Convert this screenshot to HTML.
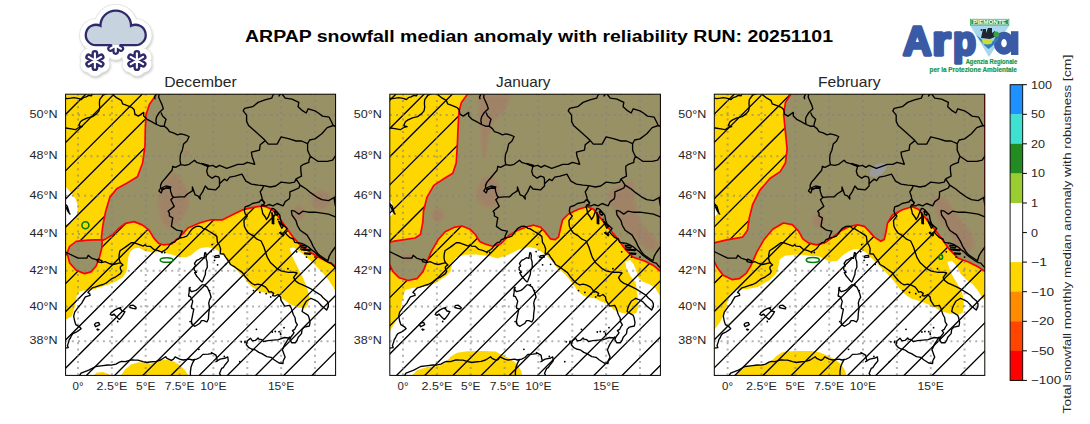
<!DOCTYPE html>
<html><head><meta charset="utf-8"><style>
html,body{margin:0;padding:0;background:#fff;overflow:hidden;width:1090px;height:424px;}
svg{display:block;}
text{font-family:"Liberation Sans",sans-serif;}
</style></head><body>
<svg width="1090" height="424" viewBox="0 0 1090 424">
<rect width="1090" height="424" fill="#fff"/>

<defs>
<clipPath id="c0"><rect x="65.6" y="94.2" width="270.0" height="281.2"/></clipPath>
<clipPath id="c1"><rect x="389.8" y="94.2" width="270.59999999999997" height="281.2"/></clipPath>
<clipPath id="c2"><rect x="714.3" y="94.2" width="270.5" height="281.2"/></clipPath>
<filter id="bl" x="-20%" y="-20%" width="140%" height="140%"><feGaussianBlur stdDeviation="1.6"/></filter>
</defs>
<g clip-path="url(#c0)">
<rect x="65.6" y="94.2" width="270.0" height="281.2" fill="#ffd700"/>
<polygon points="65.0,319.8 71.7,316.5 75.0,306.5 76.6,296.5 80.0,291.0 91.0,290.0 96.4,288.5 107.0,284.9 115.9,281.4 123.0,277.0 126.5,271.6 127.4,264.6 128.3,257.5 130.0,252.2 133.6,248.6 138.9,247.7 146.0,251.5 153.0,252.5 161.0,252.0 167.0,253.2 173.0,254.9 180.7,257.2 186.8,257.2 191.4,254.9 196.0,251.1 200.6,248.0 206.7,247.2 212.9,248.0 217.5,250.3 222.1,254.1 226.7,258.7 231.3,264.9 237.4,271.0 243.6,277.1 248.2,283.3 251.3,286.3 258.4,291.2 268.3,293.4 276.8,294.8 283.9,299.7 291.0,304.7 298.0,307.5 305.1,308.2 308.0,304.8 309.4,297.7 308.0,290.7 303.7,279.3 298.1,268.0 292.4,256.7 289.6,248.2 293.8,247.6 300.9,252.4 309.4,259.5 316.5,266.6 323.6,273.7 329.2,280.7 333.5,287.8 336.5,293.5 336.5,376.0 65.0,376.0" fill="#fff"/>
<polygon points="65.0,185.6 67.2,188.5 71.5,193.4 75.7,199.1 77.9,206.2 77.2,213.2 75.0,218.9 71.5,222.5 67.2,224.3 65.0,224.6" fill="#fff"/>
<polygon points="120.7,376.0 124.6,370.0 130.9,364.5 138.7,362.2 146.6,362.6 150.5,363.7 156.0,361.4 163.8,359.5 171.7,360.6 178.0,363.7 184.2,369.2 188.9,376.0" fill="#ffd700"/>
<polygon points="93.2,376.0 96.4,372.7 102.7,372.0 108.9,374.0 111.3,376.0" fill="#ffd700"/>
<path d="M59.36,64.2L-281.84,405.4M87.55,64.2L-253.64,405.4M115.75,64.2L-225.45,405.4M143.94,64.2L-197.26,405.4M172.13,64.2L-169.07,405.4M200.33,64.2L-140.87,405.4M228.52,64.2L-112.68,405.4M256.71,64.2L-84.49,405.4M284.91,64.2L-56.29,405.4M313.10,64.2L-28.10,405.4M341.29,64.2L0.09,405.4M369.48,64.2L28.28,405.4M397.68,64.2L56.48,405.4M425.87,64.2L84.67,405.4M454.06,64.2L112.86,405.4M482.26,64.2L141.06,405.4M510.45,64.2L169.25,405.4M538.64,64.2L197.44,405.4M566.84,64.2L225.64,405.4M595.03,64.2L253.83,405.4M623.22,64.2L282.02,405.4M651.41,64.2L310.21,405.4M679.61,64.2L338.41,405.4" stroke="#000" stroke-width="1.35" fill="none"/>
<polygon points="157.4,93.0 149.5,104.3 146.0,114.7 145.3,128.5 145.0,145.7 142.6,163.0 137.4,176.8 127.1,183.0 116.7,188.8 109.8,197.4 105.7,211.2 102.9,225.0 101.5,236.5 101.6,239.6 87.8,240.1 76.2,241.4 69.6,246.4 67.1,253.0 69.6,262.9 76.2,270.3 84.5,273.6 91.0,271.9 96.0,266.2 99.3,257.9 101.8,248.0 102.2,240.6 105.9,238.9 112.5,234.8 119.1,228.2 125.7,223.3 134.0,221.6 142.2,224.9 148.8,229.9 153.8,238.1 158.7,243.5 163.2,244.8 171.5,244.0 179.7,237.1 188.0,228.0 199.5,223.0 211.0,219.8 222.6,219.8 232.5,214.8 242.4,209.9 250.0,208.2 256.0,206.8 262.0,206.0 266.5,207.0 271.4,209.2 275.0,212.5 279.0,217.6 286.5,228.0 294.0,238.4 303.5,247.8 316.7,256.3 328.0,262.0 336.5,266.5 336.5,93.0" fill="#999166"/>
<polygon points="174.0,171.0 182.0,180.0 188.0,192.0 189.0,205.0 185.0,215.0 178.0,225.0 168.0,228.0 161.0,220.0 158.0,205.0 159.0,192.0 164.0,182.0" fill="#a08366" filter="url(#bl)"/>
<ellipse cx="187" cy="153" rx="2.5" ry="2.5" fill="#a08366" filter="url(#bl)"/>
<ellipse cx="321" cy="200" rx="10" ry="10" fill="#a08366" filter="url(#bl)"/>
<ellipse cx="299" cy="213" rx="5.5" ry="8" fill="#a08366" filter="url(#bl)"/>
<path d="M78.00,93.70V377.4M111.86,93.70V377.4M145.72,93.70V377.4M179.57,93.70V377.4M213.43,93.70V377.4M247.29,93.70V377.4M281.14,93.70V377.4M315.00,93.70V377.4M65.60,341.29H337.6M65.60,306.58H337.6M65.60,270.83H337.6M65.60,233.94H337.6M65.60,195.79H337.6M65.60,156.23H337.6M65.60,115.10H337.6" stroke="#808080" stroke-opacity="0.6" stroke-width="2" stroke-dasharray="2 4.214" fill="none"/>
<polygon points="157.4,93.0 149.5,104.3 146.0,114.7 145.3,128.5 145.0,145.7 142.6,163.0 137.4,176.8 127.1,183.0 116.7,188.8 109.8,197.4 105.7,211.2 102.9,225.0 101.5,236.5 101.6,239.6 87.8,240.1 76.2,241.4 69.6,246.4 67.1,253.0 69.6,262.9 76.2,270.3 84.5,273.6 91.0,271.9 96.0,266.2 99.3,257.9 101.8,248.0 102.2,240.6 105.9,238.9 112.5,234.8 119.1,228.2 125.7,223.3 134.0,221.6 142.2,224.9 148.8,229.9 153.8,238.1 158.7,243.5 163.2,244.8 171.5,244.0 179.7,237.1 188.0,228.0 199.5,223.0 211.0,219.8 222.6,219.8 232.5,214.8 242.4,209.9 250.0,208.2 256.0,206.8 262.0,206.0 266.5,207.0 271.4,209.2 275.0,212.5 279.0,217.6 286.5,228.0 294.0,238.4 303.5,247.8 316.7,256.3 328.0,262.0 336.5,266.5 336.5,93.0" fill="none" stroke="#ff0000" stroke-width="1.7" stroke-linejoin="round"/>
<path d="M61.7,97.5 L64.5,98.2 L67.4,98.6 L70.6,98.2 L73.9,97.7 L78.0,98.4 L81.4,99.5 L83.4,97.7 L86.1,96.9 L88.8,95.4 L91.3,95.8 L91.9,94.8 L94.3,92.2 L96.3,90.7 L97.0,87.4M61.7,128.4 L65.8,128.0 L71.2,128.9 L75.3,129.7 L78.0,128.0 L80.0,127.0 L82.1,126.6 L79.4,126.0 L78.9,125.1 L80.4,121.8 L83.0,119.9 L87.5,117.8 L92.6,116.6 L96.7,113.6 L99.0,110.9 L99.7,107.3 L99.4,103.5 L99.7,99.7 L103.1,95.0 L107.8,93.3 L112.5,92.0M61.7,202.4 L64.5,203.1 L65.8,204.9 L67.2,206.0 L68.2,209.3 L69.1,212.5 L70.4,214.5M63.4,203.9 L66.1,207.4 L67.8,211.2 L69.9,214.1M60.4,349.0 L64.7,348.1 L68.2,347.6 L67.4,345.6 L68.8,341.6 L69.2,339.6 L70.4,338.0 L71.5,335.5 L72.9,333.6 L76.2,332.2 L78.7,330.5 L81.1,328.7 L79.5,326.8 L75.8,324.6 L74.7,321.3 L73.7,316.2 L74.7,312.2 L78.3,307.1 L81.8,303.1 L83.4,300.2 L85.4,296.9 L90.1,295.4 L89.8,293.8 L87.9,292.4 L89.1,291.0 L92.2,287.9 L94.9,287.1 L99.9,285.3 L103.1,284.5 L106.4,282.9 L107.8,281.7 L111.0,279.2 L115.8,276.8 L120.4,273.6 L121.6,271.7 L120.4,268.7 L120.3,267.2 L121.1,266.1 L123.0,265.0 L120.8,263.0 L119.7,261.2 L119.0,258.1 L119.2,254.4 L120.0,250.7 L125.0,247.4 L128.1,245.1 L131.2,242.7 L133.9,242.7 L138.0,244.2 L143.4,246.1 L145.0,244.8 L146.4,246.1 L150.5,246.4 L153.0,248.7 L153.8,249.4 L158.3,250.7 L161.3,252.0 L164.1,250.7 L166.7,248.8 L167.9,247.5 L169.7,244.8 L172.1,242.7 L173.1,242.3 L174.6,242.2 L176.5,239.7 L178.5,239.0 L179.6,238.1 L183.4,237.3 L186.8,236.2 L188.6,233.9 L190.4,231.1 L192.8,228.3 L196.5,226.4 L198.9,226.2 L201.9,227.2 L202.7,228.3 L205.3,228.9 L209.4,231.5 L211.4,232.6 L214.8,234.9 L216.8,236.4 L217.5,242.3 L219.3,245.1 L220.6,248.8 L220.2,253.8 L223.7,254.0 L225.6,257.1 L227.0,259.0 L229.7,263.0 L230.4,264.5 L235.1,267.2 L237.8,269.2 L242.5,272.6 L244.6,275.7 L248.9,280.8 L252.0,283.5 L254.7,284.9 L258.1,284.2 L261.8,285.1 L265.6,287.1 L267.6,289.7 L269.0,292.1 L271.0,291.7 L273.7,293.3 L272.6,295.6 L275.1,296.0 L278.0,294.5 L280.5,296.9 L281.0,300.4 L283.9,304.8 L284.8,306.1 L289.7,305.3 L291.3,308.3 L291.8,309.9 L293.3,314.5 L295.1,317.8 L295.6,321.8 L297.4,324.9 L296.0,326.7 L294.7,329.3 L292.4,330.6 L294.0,332.7 L293.3,333.9 L290.9,337.0 L289.9,339.6 L291.7,342.7 L295.5,342.7 L297.0,340.4 L298.2,337.2 L301.5,333.6 L302.1,329.4 L304.2,327.2 L309.4,326.0 L310.0,322.7 L309.0,317.4 L308.2,315.4 L302.1,311.5 L302.8,308.3 L304.2,304.8 L306.2,301.3 L310.9,298.3 L313.6,299.5 L317.7,301.6 L321.5,305.7 L324.5,308.3 L326.6,310.1 L328.3,306.6 L328.4,303.9 L327.2,301.3 L323.1,297.7 L321.0,295.3 L316.4,292.4 L310.9,288.8 L306.5,286.7 L301.5,284.4 L298.5,283.1 L295.4,280.8 L293.6,277.7 L294.7,275.9 L297.1,273.0 L293.1,272.1 L288.6,272.3 L284.5,271.7 L281.1,270.8 L277.2,268.7 L273.7,265.4 L270.4,262.5 L267.2,257.1 L266.0,253.5 L263.9,247.0 L261.1,241.0 L257.0,239.2 L252.8,235.6 L248.2,232.8 L245.7,229.2 L244.3,226.0 L243.9,220.7 L247.3,216.0 L245.3,214.1 L244.3,210.8 L245.1,206.8 L249.3,205.5 L252.4,203.5 L255.4,202.8 L259.2,202.0 L261.2,199.7 L262.5,200.6 L264.5,202.6 L263.9,204.5 L261.8,204.9 L261.1,206.8 L262.2,210.6 L262.7,213.5 L265.6,217.5 L266.4,219.6 L268.3,216.9 L269.6,213.5 L271.0,210.3 L271.8,208.5 L273.6,208.7 L275.7,210.3 L276.9,211.8 L279.8,215.2 L280.5,219.8 L282.1,224.0 L287.1,228.5 L285.9,230.2 L284.3,231.7 L287.2,235.1 L289.9,237.7 L293.3,239.0 L294.7,242.3 L298.1,242.9 L300.6,243.1 L304.0,244.4 L308.5,247.0 L311.6,249.8 L314.1,251.6 L316.5,254.0 L317.7,255.3 L320.4,257.1 L323.0,259.0 L324.8,260.3 L329.0,262.6 L331.3,263.2 L333.2,265.6 L336.7,269.0 L338.0,272.1 L340.7,273.6M205.6,252.4 L206.4,255.7 L206.0,258.1 L207.1,261.7 L207.3,267.2 L205.6,270.8 L205.3,274.5 L203.9,278.1 L202.9,280.8 L202.1,282.0 L199.9,279.9 L198.5,278.1 L196.8,276.3 L194.7,272.6 L196.5,272.3 L194.2,269.9 L194.1,267.2 L195.6,265.9 L194.5,263.5 L196.6,260.4 L199.1,259.3 L201.5,257.7 L203.9,258.4 L204.4,255.3 L204.8,252.9 L205.6,252.4M202.5,284.5 L205.0,285.6 L207.3,287.1 L208.7,290.3 L210.0,293.3 L211.1,297.2 L209.6,299.9 L208.7,303.1 L209.5,307.8 L208.7,313.6 L208.4,319.0 L206.9,322.0 L203.9,320.6 L201.5,320.6 L199.9,323.2 L195.0,326.3 L192.4,324.9 L191.5,323.2 L191.5,320.6 L192.4,316.2 L193.1,312.7 L193.8,309.2 L191.8,308.3 L191.5,306.1 L192.7,301.3 L190.5,296.7 L188.5,296.0 L189.1,292.4 L189.3,287.9 L190.4,290.6 L191.8,291.7 L196.0,290.4 L198.1,288.8 L200.6,286.2 L202.5,284.5M289.9,336.7 L288.6,338.0 L284.4,337.5 L278.4,339.6 L267.9,340.6 L263.5,341.6 L261.5,339.6 L258.9,339.2 L258.1,337.9 L255.4,340.4 L252.4,340.8 L250.4,338.2 L247.3,341.0 L246.3,344.7 L248.5,347.3 L251.4,349.0 L255.1,349.8 L258.8,352.4 L261.9,353.7 L266.8,356.6 L271.0,357.3 L274.4,360.0 L279.1,363.0 L283.0,363.5 L283.2,360.8 L285.1,357.1 L284.1,354.4 L282.4,349.8 L283.9,346.4 L285.1,343.9 L286.8,341.3 L289.9,336.7M121.3,307.5 L119.7,308.7 L120.7,309.2 L122.0,311.0 L124.9,311.7 L123.2,314.7 L120.7,318.0 L119.3,319.4 L116.6,317.1 L115.2,315.4 L113.9,314.1 L111.9,315.4 L110.2,314.5 L111.2,312.7 L114.6,310.1 L118.0,308.3 L121.3,307.5M129.9,305.7 L133.3,305.2 L136.2,307.5 L135.8,308.9 L132.8,308.3 L129.9,307.5 L129.9,305.7M98.6,322.3 L99.7,324.6 L97.4,325.8 L95.6,326.7 L94.5,324.6 L95.6,323.2 L98.6,322.3M96.7,328.9 L99.0,329.6 L97.6,330.1 L96.7,328.9M214.8,255.9 L218.8,255.3 L219.3,257.1 L214.8,257.5 L214.8,255.9M274.4,210.8 L277.8,213.1 L277.1,215.4 L275.1,214.1 L274.4,210.8M271.7,212.2 L273.7,216.9 L273.7,222.6 L272.3,223.6 L272.3,217.9 L271.7,212.2M278.4,220.7 L283.2,226.4 L281.8,228.3 L279.1,222.6 L278.4,220.7M300.1,245.1 L306.9,246.1 L305.5,247.9 L300.8,247.0 L300.1,245.1M300.1,248.8 L310.9,249.8 L309.6,250.7 L301.5,249.8 L300.1,248.8M304.2,252.9 L310.9,253.5 L310.3,254.4 L304.8,253.8 L304.2,252.9M279.8,232.1 L283.9,234.9 L283.2,235.8 L279.8,233.0 L279.8,232.1M65.8,380.1 L73.9,377.6 L79.2,376.2 L81.0,373.1 L88.8,370.1 L95.6,366.5 L101.0,365.9 L107.8,365.0 L111.2,365.2 L115.9,364.2 L119.4,362.2 L121.7,361.3 L125.4,361.7 L131.0,359.8 L133.8,360.0 L137.9,360.2 L143.0,361.7 L146.8,362.5 L149.8,362.0 L156.1,361.3 L160.6,360.0 L165.6,356.8 L167.0,358.3 L171.4,360.3 L173.5,359.1 L175.1,356.9 L179.6,359.1 L183.1,360.0 L189.6,359.1 L192.3,360.0 L196.6,359.1 L199.9,357.5 L202.9,354.4 L208.0,354.1 L211.7,353.7 L211.4,352.5 L215.1,354.6 L216.1,355.4 L216.8,359.1 L217.5,360.8 L215.9,361.7 L217.9,360.3 L220.2,359.1 L225.6,358.0 L227.7,356.9 L228.3,360.8 L224.9,365.0 L223.3,367.6 L221.6,368.4 L219.5,373.4 L222.1,377.9M161.3,188.0 L166.0,186.0 L170.8,187.0 L170.1,188.4 L166.0,188.0 L162.0,189.9 L161.3,188.0M201.2,163.3 L208.7,165.3 L208.0,166.3 L202.6,164.3 L201.2,163.3" stroke="#000" stroke-width="1.35" fill="none" stroke-linejoin="round"/>
<path d="M112.5,92.0 L113.2,95.0 L117.3,98.2 L121.3,100.3 L122.7,103.9 L127.4,105.6 L132.2,107.7 L134.2,109.8 L134.9,114.1 L138.3,116.1 L143.7,112.4 L143.7,116.1 L147.1,119.3 L151.1,121.4 L156.5,124.5M156.5,124.5 L155.9,120.3 L156.5,117.2 L159.3,112.4M159.3,112.4 L163.3,108.8 L162.0,104.6 L159.5,99.2 L158.6,97.1 L159.3,92.8M155.2,99.2 L154.5,97.1 L156.5,92.8M161.0,112.4 L162.6,116.1 L166.0,119.3 L164.7,123.5 L164.3,126.2M156.5,124.5 L160.6,126.2 L164.3,126.2 L167.4,128.6 L169.4,131.7 L173.5,132.8 L177.5,134.8 L180.9,133.8 L185.0,134.8 L189.1,136.5 L187.0,141.0 L183.6,144.1 L182.3,150.2 L180.5,154.2 L180.0,160.2 L180.8,164.3M180.8,164.7 L185.0,165.3 L189.1,164.3 L191.8,162.3 L194.5,160.2 L196.5,162.3 L199.9,163.3 L203.9,164.3 L208.0,166.3M180.8,164.7 L175.5,167.3 L172.8,166.3 L172.1,170.2 L168.7,174.2 L165.4,178.2 L162.0,182.1 L160.6,185.1 L160.6,188.0 L158.9,190.9 L161.3,192.9 L162.6,189.0 L166.7,188.0 L170.1,188.0 L170.8,191.9 L172.1,195.8 L173.5,197.3M173.5,197.3 L170.8,199.7 L172.8,203.5 L174.2,206.4 L168.1,211.2 L169.4,213.1 L169.4,216.0 L172.8,217.9 L172.1,221.7 L171.4,226.4 L176.9,230.2 L182.3,231.1 L180.2,235.8 L179.8,238.1M173.5,197.3 L179.6,196.8 L184.7,196.8 L187.7,193.8 L192.4,190.9 L192.4,187.0 L195.1,194.8 L197.9,195.8 L200.3,199.1 L199.9,195.8 L202.6,191.9 L205.3,186.0 L208.0,189.0 L215.5,189.9 L219.5,186.0 L219.5,183.7M219.5,183.7 L219.5,179.2 L218.8,177.2 L215.5,176.2 L212.1,178.2 L208.0,175.2 L206.7,171.2 L208.0,166.3M219.5,183.7 L224.3,179.2 L227.0,180.7 L229.7,177.2 L235.1,176.2 L241.9,174.2 L245.9,181.1 L251.4,184.1 L258.1,185.1 L263.8,185.6M208.0,166.3 L212.8,165.3 L216.1,167.3 L219.5,165.3 L226.7,168.3 L232.4,166.3 L237.8,164.3 L243.2,164.3 L247.3,162.3 L251.4,163.3 L254.7,164.3 L253.4,160.2 L252.0,156.2 L251.4,152.2 L259.5,150.2 L260.2,144.7 L265.3,140.6M265.3,140.6 L261.5,136.9 L256.8,132.8 L253.4,129.7 L248.6,125.5 L246.6,121.4 L246.6,115.1 L243.2,110.9 L244.6,108.4 L252.7,106.7 L258.1,102.4 L264.9,99.9 L271.7,98.2 L273.0,95.0 L275.7,92.8M278.7,96.5 L281.1,92.8 L285.2,98.2 L292.0,99.2 L298.8,102.4 L298.1,106.7 L302.8,110.9 L306.2,113.0 L308.2,108.8 L315.0,110.9 L318.4,113.0 L322.5,116.1 L329.2,117.2 L333.3,125.5M278.7,96.5 L280.5,92.8M265.3,140.6 L268.3,144.1 L277.1,144.1 L281.1,136.9 L289.3,138.9 L296.0,141.0 L301.5,141.0 L307.6,143.7M307.6,143.7 L309.6,140.0 L315.0,138.9 L321.8,133.8 L327.2,127.6 L333.3,125.5M307.6,143.7 L307.6,150.2 L308.9,153.2 L310.4,156.2M310.4,156.2 L308.9,160.2 L308.9,162.3 L303.5,164.3 L300.8,166.3 L300.8,170.2 L301.5,176.2 L296.0,178.8M296.0,178.8 L294.7,182.1 L289.3,183.1 L281.1,182.1 L275.7,186.0 L270.3,187.0 L263.8,185.6M263.8,185.6 L262.2,189.0 L260.2,191.9 L261.5,195.8 L262.2,198.7 L262.9,200.6 L264.9,203.5M262.2,205.8 L266.2,205.8 L269.0,204.5 L273.0,205.8 L277.1,203.5 L283.2,205.8 L285.2,201.6 L289.3,198.7 L289.9,195.8 L289.9,191.9 L294.7,189.9 L298.8,188.0 L300.1,185.1M300.1,185.1 L296.0,178.8M300.1,185.1 L306.2,189.0 L310.9,192.9 L316.4,196.8 L321.8,199.7 L328.5,200.6 L334.0,197.7 L342.1,192.9M291.3,210.3 L292.0,215.0 L296.0,220.7 L297.4,225.5 L300.1,230.2 L306.9,234.9 L310.9,241.4 L313.0,246.1 L316.4,251.6 L317.7,253.5 L319.7,255.3 L325.2,259.0 L327.9,260.8M291.3,210.3 L294.7,211.2 L298.8,214.1 L302.8,211.2 L308.2,212.2 L315.0,212.2 L321.8,213.1 L328.5,214.1 L335.3,216.9 L340.7,217.9M334.0,197.7 L335.3,205.5 L340.7,211.2M327.9,260.8 L329.2,256.2 L331.3,252.5 L335.3,247.0 L339.4,243.3M310.4,156.2 L317.7,161.3 L327.2,161.3 L332.6,160.2 L335.3,156.2 L342.1,154.2M333.3,125.5 L339.4,127.6M59.0,248.8 L64.5,251.6 L68.5,253.5 L73.9,256.2 L78.0,258.1 L86.8,258.1 L88.2,255.3 L91.5,258.1 L97.0,259.9 L97.6,261.7 L101.4,262.6 L105.1,261.7 L109.1,263.5 L113.2,264.5 L120.9,262.6M97.6,259.0 L97.6,261.7M101.4,262.6 L102.1,260.8 L97.6,259.0M194.7,359.1 L192.4,363.4 L191.1,366.7 L190.4,371.7 L190.4,378.4" stroke="#000" stroke-width="1.35" fill="none" stroke-linejoin="round"/>
<g fill="#000"><circle cx="256.4" cy="329.3" r="0.9"/><circle cx="239.8" cy="361.7" r="0.9"/><circle cx="280.5" cy="333.1" r="0.9"/><circle cx="279.1" cy="331.7" r="0.9"/><circle cx="284.0" cy="327.7" r="0.9"/><circle cx="280.7" cy="334.4" r="0.9"/><circle cx="272.3" cy="332.0" r="0.9"/><circle cx="275.3" cy="331.5" r="0.9"/><circle cx="241.3" cy="341.8" r="0.9"/><circle cx="245.0" cy="342.5" r="0.9"/><circle cx="245.0" cy="341.3" r="0.9"/><circle cx="253.5" cy="290.6" r="0.9"/><circle cx="259.9" cy="292.4" r="0.9"/><circle cx="266.2" cy="293.7" r="0.9"/><circle cx="270.7" cy="296.9" r="0.9"/><circle cx="225.6" cy="264.3" r="0.9"/><circle cx="211.1" cy="251.6" r="0.9"/><circle cx="217.6" cy="264.8" r="0.9"/><circle cx="214.5" cy="260.3" r="0.9"/><circle cx="212.1" cy="244.6" r="0.9"/><circle cx="287.9" cy="268.7" r="0.9"/><circle cx="306.5" cy="257.1" r="0.9"/><circle cx="315.0" cy="257.1" r="0.9"/><circle cx="296.7" cy="251.8" r="0.9"/><circle cx="273.7" cy="223.6" r="0.9"/><circle cx="277.9" cy="219.4" r="0.9"/><circle cx="283.2" cy="233.0" r="0.9"/><circle cx="164.7" cy="252.5" r="0.9"/><circle cx="162.0" cy="252.5" r="0.9"/><circle cx="117.7" cy="321.5" r="0.9"/><circle cx="191.8" cy="323.2" r="0.9"/><circle cx="190.1" cy="321.6" r="0.9"/><circle cx="190.0" cy="287.6" r="0.9"/><circle cx="205.3" cy="284.7" r="0.9"/><circle cx="209.6" cy="290.6" r="0.9"/><circle cx="198.9" cy="349.3" r="0.9"/><circle cx="224.3" cy="356.3" r="0.9"/><circle cx="298.8" cy="243.3" r="0.9"/><circle cx="304.2" cy="249.8" r="0.9"/></g>
<ellipse cx="85.4" cy="225.3" rx="3.5" ry="3.5" fill="none" stroke="#008000" stroke-width="1.6"/>
<ellipse cx="166.6" cy="260" rx="6.4" ry="2.3" fill="none" stroke="#008000" stroke-width="1.6"/>
</g>
<rect x="65.6" y="94.2" width="270.0" height="281.2" fill="none" stroke="#000" stroke-width="1"/>
<text x="57.6" y="344.2" font-size="11" text-anchor="end" fill="#262626" textLength="28" lengthAdjust="spacingAndGlyphs">38°N</text>
<text x="57.6" y="309.5" font-size="11" text-anchor="end" fill="#262626" textLength="28" lengthAdjust="spacingAndGlyphs">40°N</text>
<text x="57.6" y="273.7" font-size="11" text-anchor="end" fill="#262626" textLength="28" lengthAdjust="spacingAndGlyphs">42°N</text>
<text x="57.6" y="236.8" font-size="11" text-anchor="end" fill="#262626" textLength="28" lengthAdjust="spacingAndGlyphs">44°N</text>
<text x="57.6" y="198.7" font-size="11" text-anchor="end" fill="#262626" textLength="28" lengthAdjust="spacingAndGlyphs">46°N</text>
<text x="57.6" y="159.1" font-size="11" text-anchor="end" fill="#262626" textLength="28" lengthAdjust="spacingAndGlyphs">48°N</text>
<text x="57.6" y="118.0" font-size="11" text-anchor="end" fill="#262626" textLength="28" lengthAdjust="spacingAndGlyphs">50°N</text>
<text x="72.5" y="390" font-size="11" fill="#262626" textLength="11" lengthAdjust="spacingAndGlyphs">0°</text>
<text x="96.5" y="390" font-size="11" fill="#262626" textLength="30.8" lengthAdjust="spacingAndGlyphs">2.5°E</text>
<text x="136.0" y="390" font-size="11" fill="#262626" textLength="19.4" lengthAdjust="spacingAndGlyphs">5°E</text>
<text x="164.7" y="390" font-size="11" fill="#262626" textLength="29.8" lengthAdjust="spacingAndGlyphs">7.5°E</text>
<text x="200.2" y="390" font-size="11" fill="#262626" textLength="26.4" lengthAdjust="spacingAndGlyphs">10°E</text>
<text x="267.9" y="390" font-size="11" fill="#262626" textLength="26.4" lengthAdjust="spacingAndGlyphs">15°E</text>
<text x="164.2" y="87" font-size="13.9" fill="#262626" textLength="72.5" lengthAdjust="spacingAndGlyphs">December</text>
<g clip-path="url(#c1)">
<rect x="389.8" y="94.2" width="270.59999999999997" height="281.2" fill="#ffd700"/>
<polygon points="389.0,333.0 390.3,330.4 393.5,325.1 397.7,317.7 400.9,308.2 403.0,297.6 405.1,290.1 412.6,288.0 427.4,285.9 435.9,282.7 446.0,276.1 450.5,271.6 452.3,262.8 455.8,257.5 464.6,254.8 476.0,254.5 489.2,256.1 497.5,258.6 509.0,254.5 518.9,249.5 528.8,247.0 537.0,248.7 545.3,254.5 553.6,262.7 558.5,270.0 560.7,270.2 566.4,275.8 572.0,282.5 577.7,290.9 583.4,295.7 589.0,297.5 596.0,298.5 598.9,300.4 608.3,304.2 614.0,309.9 621.5,312.7 631.0,314.6 636.6,312.7 638.5,306.1 637.6,296.6 635.7,282.5 631.0,276.8 626.3,268.3 625.3,261.7 630.0,259.8 633.8,264.5 636.6,272.1 638.5,277.8 642.3,281.5 649.9,284.4 655.5,288.2 659.3,294.8 661.0,296.6 661.0,376.0 389.0,376.0" fill="#fff"/>
<polygon points="389.0,198.0 392.0,203.0 393.5,209.0 392.5,214.0 389.0,218.0" fill="#fff"/>
<polygon points="411.3,376.0 417.1,370.2 427.4,367.0 438.9,365.7 445.4,363.1 450.5,356.7 456.9,352.8 467.2,351.3 482.6,350.9 495.5,351.6 503.2,355.4 510.9,359.3 517.3,364.4 521.1,370.8 522.4,376.0" fill="#ffd700"/>
<path d="M397.68,64.2L56.48,405.4M425.87,64.2L84.67,405.4M454.06,64.2L112.86,405.4M482.26,64.2L141.06,405.4M510.45,64.2L169.25,405.4M538.64,64.2L197.44,405.4M566.84,64.2L225.64,405.4M595.03,64.2L253.83,405.4M623.22,64.2L282.02,405.4M651.41,64.2L310.21,405.4M679.61,64.2L338.41,405.4M707.80,64.2L366.60,405.4M735.99,64.2L394.79,405.4M764.19,64.2L422.99,405.4M792.38,64.2L451.18,405.4M820.57,64.2L479.37,405.4M848.77,64.2L507.57,405.4M876.96,64.2L535.76,405.4M905.15,64.2L563.95,405.4M933.34,64.2L592.14,405.4M961.54,64.2L620.34,405.4M989.73,64.2L648.53,405.4" stroke="#000" stroke-width="1.35" fill="none"/>
<polygon points="468.3,93.0 461.4,102.6 459.0,111.2 458.0,128.5 457.3,145.7 456.2,163.0 452.8,173.3 444.2,178.5 433.8,185.4 426.9,197.4 423.5,211.2 422.8,222.0 422.2,225.6 420.4,234.5 415.1,238.0 402.7,239.8 393.8,241.2 389.0,242.4 389.0,263.0 389.6,264.5 393.0,271.6 399.2,277.8 408.0,280.5 416.9,278.7 423.0,271.6 426.6,262.8 431.0,252.2 438.1,239.8 445.2,231.8 454.0,227.4 462.0,226.0 470.0,229.2 475.3,234.5 479.7,241.5 484.3,243.7 492.5,246.2 500.8,243.7 509.0,235.5 517.3,230.5 525.5,227.2 533.8,225.2 540.4,227.2 545.3,232.2 550.3,238.8 555.2,239.6 558.5,237.1 560.2,229.7 562.6,219.8 568.4,214.0 578.4,209.2 586.9,206.7 593.5,209.2 600.1,217.6 608.6,228.0 618.0,239.3 625.6,249.7 633.2,257.3 644.5,261.0 653.9,265.8 659.6,270.5 661.0,271.5 661.0,93.0" fill="#999166"/>
<polygon points="478.0,95.0 512.0,95.0 505.0,110.0 492.0,124.0 488.0,140.0 486.0,158.0 482.0,156.0 481.0,135.0 479.0,115.0" fill="#a08366" filter="url(#bl)"/>
<polygon points="476.5,190.0 482.0,178.0 492.0,176.0 500.0,185.0 500.5,200.0 494.0,208.0 484.0,207.0 477.0,200.0" fill="#a08366" filter="url(#bl)"/>
<ellipse cx="438" cy="215" rx="6" ry="7" fill="#a08366" filter="url(#bl)"/>
<ellipse cx="408" cy="257.5" rx="5" ry="4" fill="#a08366" filter="url(#bl)"/>
<polygon points="630.3,179.4 633.9,184.2 635.0,198.3 637.4,212.5 642.1,224.3 654.0,236.1 658.6,244.0 656.3,250.0 646.8,250.3 639.8,243.2 628.0,231.4 618.5,217.2 609.0,203.0 609.0,191.3 620.0,185.0" fill="#a08366" filter="url(#bl)"/>
<path d="M403.00,93.70V377.4M436.86,93.70V377.4M470.72,93.70V377.4M504.57,93.70V377.4M538.43,93.70V377.4M572.29,93.70V377.4M606.14,93.70V377.4M640.00,93.70V377.4M389.80,341.29H662.4M389.80,306.58H662.4M389.80,270.83H662.4M389.80,233.94H662.4M389.80,195.79H662.4M389.80,156.23H662.4M389.80,115.10H662.4" stroke="#808080" stroke-opacity="0.6" stroke-width="2" stroke-dasharray="2 4.214" fill="none"/>
<polygon points="468.3,93.0 461.4,102.6 459.0,111.2 458.0,128.5 457.3,145.7 456.2,163.0 452.8,173.3 444.2,178.5 433.8,185.4 426.9,197.4 423.5,211.2 422.8,222.0 422.2,225.6 420.4,234.5 415.1,238.0 402.7,239.8 393.8,241.2 389.0,242.4 389.0,263.0 389.6,264.5 393.0,271.6 399.2,277.8 408.0,280.5 416.9,278.7 423.0,271.6 426.6,262.8 431.0,252.2 438.1,239.8 445.2,231.8 454.0,227.4 462.0,226.0 470.0,229.2 475.3,234.5 479.7,241.5 484.3,243.7 492.5,246.2 500.8,243.7 509.0,235.5 517.3,230.5 525.5,227.2 533.8,225.2 540.4,227.2 545.3,232.2 550.3,238.8 555.2,239.6 558.5,237.1 560.2,229.7 562.6,219.8 568.4,214.0 578.4,209.2 586.9,206.7 593.5,209.2 600.1,217.6 608.6,228.0 618.0,239.3 625.6,249.7 633.2,257.3 644.5,261.0 653.9,265.8 659.6,270.5 661.0,271.5 661.0,93.0" fill="none" stroke="#ff0000" stroke-width="1.7" stroke-linejoin="round"/>
<path d="M386.7,97.5 L389.5,98.2 L392.4,98.6 L395.6,98.2 L398.9,97.7 L403.0,98.4 L406.4,99.5 L408.4,97.7 L411.1,96.9 L413.8,95.4 L416.3,95.8 L416.9,94.8 L419.3,92.2 L421.3,90.7 L422.0,87.4M386.7,128.4 L390.8,128.0 L396.2,128.9 L400.3,129.7 L403.0,128.0 L405.0,127.0 L407.1,126.6 L404.4,126.0 L403.9,125.1 L405.4,121.8 L408.0,119.9 L412.5,117.8 L417.6,116.6 L421.7,113.6 L424.0,110.9 L424.7,107.3 L424.4,103.5 L424.7,99.7 L428.1,95.0 L432.8,93.3 L437.5,92.0M386.7,202.4 L389.5,203.1 L390.8,204.9 L392.2,206.0 L393.2,209.3 L394.1,212.5 L395.4,214.5M388.4,203.9 L391.1,207.4 L392.8,211.2 L394.9,214.1M385.4,349.0 L389.7,348.1 L393.2,347.6 L392.4,345.6 L393.8,341.6 L394.2,339.6 L395.4,338.0 L396.5,335.5 L397.9,333.6 L401.2,332.2 L403.7,330.5 L406.1,328.7 L404.5,326.8 L400.8,324.6 L399.7,321.3 L398.7,316.2 L399.7,312.2 L403.3,307.1 L406.8,303.1 L408.4,300.2 L410.4,296.9 L415.1,295.4 L414.8,293.8 L412.9,292.4 L414.1,291.0 L417.2,287.9 L419.9,287.1 L424.9,285.3 L428.1,284.5 L431.4,282.9 L432.8,281.7 L436.0,279.2 L440.8,276.8 L445.4,273.6 L446.6,271.7 L445.4,268.7 L445.3,267.2 L446.1,266.1 L448.0,265.0 L445.8,263.0 L444.7,261.2 L444.0,258.1 L444.2,254.4 L445.0,250.7 L450.0,247.4 L453.1,245.1 L456.2,242.7 L458.9,242.7 L463.0,244.2 L468.4,246.1 L470.0,244.8 L471.4,246.1 L475.5,246.4 L478.0,248.7 L478.8,249.4 L483.3,250.7 L486.3,252.0 L489.1,250.7 L491.7,248.8 L492.9,247.5 L494.7,244.8 L497.1,242.7 L498.1,242.3 L499.6,242.2 L501.5,239.7 L503.5,239.0 L504.6,238.1 L508.4,237.3 L511.8,236.2 L513.6,233.9 L515.4,231.1 L517.8,228.3 L521.5,226.4 L523.9,226.2 L526.9,227.2 L527.7,228.3 L530.3,228.9 L534.4,231.5 L536.4,232.6 L539.8,234.9 L541.8,236.4 L542.5,242.3 L544.3,245.1 L545.6,248.8 L545.2,253.8 L548.7,254.0 L550.6,257.1 L552.0,259.0 L554.7,263.0 L555.4,264.5 L560.1,267.2 L562.8,269.2 L567.5,272.6 L569.6,275.7 L573.9,280.8 L577.0,283.5 L579.7,284.9 L583.1,284.2 L586.8,285.1 L590.6,287.1 L592.6,289.7 L594.0,292.1 L596.0,291.7 L598.7,293.3 L597.6,295.6 L600.1,296.0 L603.0,294.5 L605.5,296.9 L606.0,300.4 L608.9,304.8 L609.8,306.1 L614.7,305.3 L616.3,308.3 L616.8,309.9 L618.3,314.5 L620.1,317.8 L620.6,321.8 L622.4,324.9 L621.0,326.7 L619.7,329.3 L617.4,330.6 L619.0,332.7 L618.3,333.9 L615.9,337.0 L614.9,339.6 L616.7,342.7 L620.5,342.7 L622.0,340.4 L623.2,337.2 L626.5,333.6 L627.1,329.4 L629.2,327.2 L634.4,326.0 L635.0,322.7 L634.0,317.4 L633.2,315.4 L627.1,311.5 L627.8,308.3 L629.2,304.8 L631.2,301.3 L635.9,298.3 L638.6,299.5 L642.7,301.6 L646.5,305.7 L649.5,308.3 L651.6,310.1 L653.3,306.6 L653.4,303.9 L652.2,301.3 L648.1,297.7 L646.0,295.3 L641.4,292.4 L635.9,288.8 L631.5,286.7 L626.5,284.4 L623.5,283.1 L620.4,280.8 L618.6,277.7 L619.7,275.9 L622.1,273.0 L618.1,272.1 L613.6,272.3 L609.5,271.7 L606.1,270.8 L602.2,268.7 L598.7,265.4 L595.4,262.5 L592.2,257.1 L591.0,253.5 L588.9,247.0 L586.1,241.0 L582.0,239.2 L577.8,235.6 L573.2,232.8 L570.7,229.2 L569.3,226.0 L568.9,220.7 L572.3,216.0 L570.3,214.1 L569.3,210.8 L570.1,206.8 L574.3,205.5 L577.4,203.5 L580.4,202.8 L584.2,202.0 L586.2,199.7 L587.5,200.6 L589.5,202.6 L588.9,204.5 L586.8,204.9 L586.1,206.8 L587.2,210.6 L587.7,213.5 L590.6,217.5 L591.4,219.6 L593.3,216.9 L594.6,213.5 L596.0,210.3 L596.8,208.5 L598.6,208.7 L600.7,210.3 L601.9,211.8 L604.8,215.2 L605.5,219.8 L607.1,224.0 L612.1,228.5 L610.9,230.2 L609.3,231.7 L612.2,235.1 L614.9,237.7 L618.3,239.0 L619.7,242.3 L623.1,242.9 L625.6,243.1 L629.0,244.4 L633.5,247.0 L636.6,249.8 L639.1,251.6 L641.5,254.0 L642.7,255.3 L645.4,257.1 L648.0,259.0 L649.8,260.3 L654.0,262.6 L656.3,263.2 L658.2,265.6 L661.7,269.0 L663.0,272.1 L665.7,273.6M530.6,252.4 L531.4,255.7 L531.0,258.1 L532.1,261.7 L532.3,267.2 L530.6,270.8 L530.3,274.5 L528.9,278.1 L527.9,280.8 L527.1,282.0 L524.9,279.9 L523.5,278.1 L521.8,276.3 L519.7,272.6 L521.5,272.3 L519.2,269.9 L519.1,267.2 L520.6,265.9 L519.5,263.5 L521.6,260.4 L524.1,259.3 L526.5,257.7 L528.9,258.4 L529.4,255.3 L529.8,252.9 L530.6,252.4M527.5,284.5 L530.0,285.6 L532.3,287.1 L533.7,290.3 L535.0,293.3 L536.1,297.2 L534.6,299.9 L533.7,303.1 L534.5,307.8 L533.7,313.6 L533.4,319.0 L531.9,322.0 L528.9,320.6 L526.5,320.6 L524.9,323.2 L520.0,326.3 L517.4,324.9 L516.5,323.2 L516.5,320.6 L517.4,316.2 L518.1,312.7 L518.8,309.2 L516.8,308.3 L516.5,306.1 L517.7,301.3 L515.5,296.7 L513.5,296.0 L514.1,292.4 L514.3,287.9 L515.4,290.6 L516.8,291.7 L521.0,290.4 L523.1,288.8 L525.6,286.2 L527.5,284.5M614.9,336.7 L613.6,338.0 L609.4,337.5 L603.4,339.6 L592.9,340.6 L588.5,341.6 L586.5,339.6 L583.9,339.2 L583.1,337.9 L580.4,340.4 L577.4,340.8 L575.4,338.2 L572.3,341.0 L571.3,344.7 L573.5,347.3 L576.4,349.0 L580.1,349.8 L583.8,352.4 L586.9,353.7 L591.8,356.6 L596.0,357.3 L599.4,360.0 L604.1,363.0 L608.0,363.5 L608.2,360.8 L610.1,357.1 L609.1,354.4 L607.4,349.8 L608.9,346.4 L610.1,343.9 L611.8,341.3 L614.9,336.7M446.3,307.5 L444.7,308.7 L445.7,309.2 L447.0,311.0 L449.9,311.7 L448.2,314.7 L445.7,318.0 L444.3,319.4 L441.6,317.1 L440.2,315.4 L438.9,314.1 L436.9,315.4 L435.2,314.5 L436.2,312.7 L439.6,310.1 L443.0,308.3 L446.3,307.5M454.9,305.7 L458.3,305.2 L461.2,307.5 L460.8,308.9 L457.8,308.3 L454.9,307.5 L454.9,305.7M423.6,322.3 L424.7,324.6 L422.4,325.8 L420.6,326.7 L419.5,324.6 L420.6,323.2 L423.6,322.3M421.7,328.9 L424.0,329.6 L422.6,330.1 L421.7,328.9M539.8,255.9 L543.8,255.3 L544.3,257.1 L539.8,257.5 L539.8,255.9M599.4,210.8 L602.8,213.1 L602.1,215.4 L600.1,214.1 L599.4,210.8M596.7,212.2 L598.7,216.9 L598.7,222.6 L597.3,223.6 L597.3,217.9 L596.7,212.2M603.4,220.7 L608.2,226.4 L606.8,228.3 L604.1,222.6 L603.4,220.7M625.1,245.1 L631.9,246.1 L630.5,247.9 L625.8,247.0 L625.1,245.1M625.1,248.8 L635.9,249.8 L634.6,250.7 L626.5,249.8 L625.1,248.8M629.2,252.9 L635.9,253.5 L635.3,254.4 L629.8,253.8 L629.2,252.9M604.8,232.1 L608.9,234.9 L608.2,235.8 L604.8,233.0 L604.8,232.1M390.8,380.1 L398.9,377.6 L404.2,376.2 L406.0,373.1 L413.8,370.1 L420.6,366.5 L426.0,365.9 L432.8,365.0 L436.2,365.2 L440.9,364.2 L444.4,362.2 L446.7,361.3 L450.4,361.7 L456.0,359.8 L458.8,360.0 L462.9,360.2 L468.0,361.7 L471.8,362.5 L474.8,362.0 L481.1,361.3 L485.6,360.0 L490.6,356.8 L492.0,358.3 L496.4,360.3 L498.5,359.1 L500.1,356.9 L504.6,359.1 L508.1,360.0 L514.6,359.1 L517.3,360.0 L521.6,359.1 L524.9,357.5 L527.9,354.4 L533.0,354.1 L536.7,353.7 L536.4,352.5 L540.1,354.6 L541.1,355.4 L541.8,359.1 L542.5,360.8 L540.9,361.7 L542.9,360.3 L545.2,359.1 L550.6,358.0 L552.7,356.9 L553.3,360.8 L549.9,365.0 L548.3,367.6 L546.6,368.4 L544.5,373.4 L547.1,377.9M486.3,188.0 L491.0,186.0 L495.8,187.0 L495.1,188.4 L491.0,188.0 L487.0,189.9 L486.3,188.0M526.2,163.3 L533.7,165.3 L533.0,166.3 L527.6,164.3 L526.2,163.3" stroke="#000" stroke-width="1.35" fill="none" stroke-linejoin="round"/>
<path d="M437.5,92.0 L438.2,95.0 L442.3,98.2 L446.3,100.3 L447.7,103.9 L452.4,105.6 L457.2,107.7 L459.2,109.8 L459.9,114.1 L463.3,116.1 L468.7,112.4 L468.7,116.1 L472.1,119.3 L476.1,121.4 L481.5,124.5M481.5,124.5 L480.9,120.3 L481.5,117.2 L484.3,112.4M484.3,112.4 L488.3,108.8 L487.0,104.6 L484.5,99.2 L483.6,97.1 L484.3,92.8M480.2,99.2 L479.5,97.1 L481.5,92.8M486.0,112.4 L487.6,116.1 L491.0,119.3 L489.7,123.5 L489.3,126.2M481.5,124.5 L485.6,126.2 L489.3,126.2 L492.4,128.6 L494.4,131.7 L498.5,132.8 L502.5,134.8 L505.9,133.8 L510.0,134.8 L514.1,136.5 L512.0,141.0 L508.6,144.1 L507.3,150.2 L505.5,154.2 L505.0,160.2 L505.8,164.3M505.8,164.7 L510.0,165.3 L514.1,164.3 L516.8,162.3 L519.5,160.2 L521.5,162.3 L524.9,163.3 L528.9,164.3 L533.0,166.3M505.8,164.7 L500.5,167.3 L497.8,166.3 L497.1,170.2 L493.7,174.2 L490.4,178.2 L487.0,182.1 L485.6,185.1 L485.6,188.0 L483.9,190.9 L486.3,192.9 L487.6,189.0 L491.7,188.0 L495.1,188.0 L495.8,191.9 L497.1,195.8 L498.5,197.3M498.5,197.3 L495.8,199.7 L497.8,203.5 L499.2,206.4 L493.1,211.2 L494.4,213.1 L494.4,216.0 L497.8,217.9 L497.1,221.7 L496.4,226.4 L501.9,230.2 L507.3,231.1 L505.2,235.8 L504.8,238.1M498.5,197.3 L504.6,196.8 L509.7,196.8 L512.7,193.8 L517.4,190.9 L517.4,187.0 L520.1,194.8 L522.9,195.8 L525.3,199.1 L524.9,195.8 L527.6,191.9 L530.3,186.0 L533.0,189.0 L540.5,189.9 L544.5,186.0 L544.5,183.7M544.5,183.7 L544.5,179.2 L543.8,177.2 L540.5,176.2 L537.1,178.2 L533.0,175.2 L531.7,171.2 L533.0,166.3M544.5,183.7 L549.3,179.2 L552.0,180.7 L554.7,177.2 L560.1,176.2 L566.9,174.2 L570.9,181.1 L576.4,184.1 L583.1,185.1 L588.8,185.6M533.0,166.3 L537.8,165.3 L541.1,167.3 L544.5,165.3 L551.7,168.3 L557.4,166.3 L562.8,164.3 L568.2,164.3 L572.3,162.3 L576.4,163.3 L579.7,164.3 L578.4,160.2 L577.0,156.2 L576.4,152.2 L584.5,150.2 L585.2,144.7 L590.3,140.6M590.3,140.6 L586.5,136.9 L581.8,132.8 L578.4,129.7 L573.6,125.5 L571.6,121.4 L571.6,115.1 L568.2,110.9 L569.6,108.4 L577.7,106.7 L583.1,102.4 L589.9,99.9 L596.7,98.2 L598.0,95.0 L600.7,92.8M603.7,96.5 L606.1,92.8 L610.2,98.2 L617.0,99.2 L623.8,102.4 L623.1,106.7 L627.8,110.9 L631.2,113.0 L633.2,108.8 L640.0,110.9 L643.4,113.0 L647.5,116.1 L654.2,117.2 L658.3,125.5M603.7,96.5 L605.5,92.8M590.3,140.6 L593.3,144.1 L602.1,144.1 L606.1,136.9 L614.3,138.9 L621.0,141.0 L626.5,141.0 L632.6,143.7M632.6,143.7 L634.6,140.0 L640.0,138.9 L646.8,133.8 L652.2,127.6 L658.3,125.5M632.6,143.7 L632.6,150.2 L633.9,153.2 L635.4,156.2M635.4,156.2 L633.9,160.2 L633.9,162.3 L628.5,164.3 L625.8,166.3 L625.8,170.2 L626.5,176.2 L621.0,178.8M621.0,178.8 L619.7,182.1 L614.3,183.1 L606.1,182.1 L600.7,186.0 L595.3,187.0 L588.8,185.6M588.8,185.6 L587.2,189.0 L585.2,191.9 L586.5,195.8 L587.2,198.7 L587.9,200.6 L589.9,203.5M587.2,205.8 L591.2,205.8 L594.0,204.5 L598.0,205.8 L602.1,203.5 L608.2,205.8 L610.2,201.6 L614.3,198.7 L614.9,195.8 L614.9,191.9 L619.7,189.9 L623.8,188.0 L625.1,185.1M625.1,185.1 L621.0,178.8M625.1,185.1 L631.2,189.0 L635.9,192.9 L641.4,196.8 L646.8,199.7 L653.5,200.6 L659.0,197.7 L667.1,192.9M616.3,210.3 L617.0,215.0 L621.0,220.7 L622.4,225.5 L625.1,230.2 L631.9,234.9 L635.9,241.4 L638.0,246.1 L641.4,251.6 L642.7,253.5 L644.7,255.3 L650.2,259.0 L652.9,260.8M616.3,210.3 L619.7,211.2 L623.8,214.1 L627.8,211.2 L633.2,212.2 L640.0,212.2 L646.8,213.1 L653.5,214.1 L660.3,216.9 L665.7,217.9M659.0,197.7 L660.3,205.5 L665.7,211.2M652.9,260.8 L654.2,256.2 L656.3,252.5 L660.3,247.0 L664.4,243.3M635.4,156.2 L642.7,161.3 L652.2,161.3 L657.6,160.2 L660.3,156.2 L667.1,154.2M658.3,125.5 L664.4,127.6M384.0,248.8 L389.5,251.6 L393.5,253.5 L398.9,256.2 L403.0,258.1 L411.8,258.1 L413.2,255.3 L416.5,258.1 L422.0,259.9 L422.6,261.7 L426.4,262.6 L430.1,261.7 L434.1,263.5 L438.2,264.5 L445.9,262.6M422.6,259.0 L422.6,261.7M426.4,262.6 L427.1,260.8 L422.6,259.0M519.7,359.1 L517.4,363.4 L516.1,366.7 L515.4,371.7 L515.4,378.4" stroke="#000" stroke-width="1.35" fill="none" stroke-linejoin="round"/>
<g fill="#000"><circle cx="581.4" cy="329.3" r="0.9"/><circle cx="564.8" cy="361.7" r="0.9"/><circle cx="605.5" cy="333.1" r="0.9"/><circle cx="604.1" cy="331.7" r="0.9"/><circle cx="609.0" cy="327.7" r="0.9"/><circle cx="605.7" cy="334.4" r="0.9"/><circle cx="597.3" cy="332.0" r="0.9"/><circle cx="600.3" cy="331.5" r="0.9"/><circle cx="566.3" cy="341.8" r="0.9"/><circle cx="570.0" cy="342.5" r="0.9"/><circle cx="570.0" cy="341.3" r="0.9"/><circle cx="578.5" cy="290.6" r="0.9"/><circle cx="584.9" cy="292.4" r="0.9"/><circle cx="591.2" cy="293.7" r="0.9"/><circle cx="595.7" cy="296.9" r="0.9"/><circle cx="550.6" cy="264.3" r="0.9"/><circle cx="536.1" cy="251.6" r="0.9"/><circle cx="542.6" cy="264.8" r="0.9"/><circle cx="539.5" cy="260.3" r="0.9"/><circle cx="537.1" cy="244.6" r="0.9"/><circle cx="612.9" cy="268.7" r="0.9"/><circle cx="631.5" cy="257.1" r="0.9"/><circle cx="640.0" cy="257.1" r="0.9"/><circle cx="621.7" cy="251.8" r="0.9"/><circle cx="598.7" cy="223.6" r="0.9"/><circle cx="602.9" cy="219.4" r="0.9"/><circle cx="608.2" cy="233.0" r="0.9"/><circle cx="489.7" cy="252.5" r="0.9"/><circle cx="487.0" cy="252.5" r="0.9"/><circle cx="442.7" cy="321.5" r="0.9"/><circle cx="516.8" cy="323.2" r="0.9"/><circle cx="515.1" cy="321.6" r="0.9"/><circle cx="515.0" cy="287.6" r="0.9"/><circle cx="530.3" cy="284.7" r="0.9"/><circle cx="534.6" cy="290.6" r="0.9"/><circle cx="523.9" cy="349.3" r="0.9"/><circle cx="549.3" cy="356.3" r="0.9"/><circle cx="623.8" cy="243.3" r="0.9"/><circle cx="629.2" cy="249.8" r="0.9"/></g>
</g>
<rect x="389.8" y="94.2" width="270.59999999999997" height="281.2" fill="none" stroke="#000" stroke-width="1"/>
<text x="381.8" y="344.2" font-size="11" text-anchor="end" fill="#262626" textLength="28" lengthAdjust="spacingAndGlyphs">38°N</text>
<text x="381.8" y="309.5" font-size="11" text-anchor="end" fill="#262626" textLength="28" lengthAdjust="spacingAndGlyphs">40°N</text>
<text x="381.8" y="273.7" font-size="11" text-anchor="end" fill="#262626" textLength="28" lengthAdjust="spacingAndGlyphs">42°N</text>
<text x="381.8" y="236.8" font-size="11" text-anchor="end" fill="#262626" textLength="28" lengthAdjust="spacingAndGlyphs">44°N</text>
<text x="381.8" y="198.7" font-size="11" text-anchor="end" fill="#262626" textLength="28" lengthAdjust="spacingAndGlyphs">46°N</text>
<text x="381.8" y="159.1" font-size="11" text-anchor="end" fill="#262626" textLength="28" lengthAdjust="spacingAndGlyphs">48°N</text>
<text x="381.8" y="118.0" font-size="11" text-anchor="end" fill="#262626" textLength="28" lengthAdjust="spacingAndGlyphs">50°N</text>
<text x="397.5" y="390" font-size="11" fill="#262626" textLength="11" lengthAdjust="spacingAndGlyphs">0°</text>
<text x="421.5" y="390" font-size="11" fill="#262626" textLength="30.8" lengthAdjust="spacingAndGlyphs">2.5°E</text>
<text x="461.0" y="390" font-size="11" fill="#262626" textLength="19.4" lengthAdjust="spacingAndGlyphs">5°E</text>
<text x="489.7" y="390" font-size="11" fill="#262626" textLength="29.8" lengthAdjust="spacingAndGlyphs">7.5°E</text>
<text x="525.2" y="390" font-size="11" fill="#262626" textLength="26.4" lengthAdjust="spacingAndGlyphs">10°E</text>
<text x="592.9" y="390" font-size="11" fill="#262626" textLength="26.4" lengthAdjust="spacingAndGlyphs">15°E</text>
<text x="496.0" y="87" font-size="13.9" fill="#262626" textLength="54.5" lengthAdjust="spacingAndGlyphs">January</text>
<g clip-path="url(#c2)">
<rect x="714.3" y="94.2" width="270.5" height="281.2" fill="#ffd700"/>
<polygon points="713.0,330.0 716.4,327.2 720.7,320.9 724.9,312.4 727.0,303.9 729.1,295.4 734.4,290.1 747.2,289.1 757.8,287.0 769.0,280.6 771.0,278.7 776.3,273.4 778.0,268.1 779.8,259.2 785.1,255.7 794.0,254.8 802.8,254.8 809.0,255.7 819.4,256.6 830.0,261.7 837.5,260.8 843.2,255.1 848.9,251.3 854.5,249.1 860.2,249.4 865.8,252.3 871.5,257.9 877.2,263.6 882.8,269.2 888.5,274.9 894.2,281.5 899.8,289.1 905.5,294.7 911.1,298.5 920.0,301.3 922.9,302.3 932.3,306.1 939.9,310.8 949.3,313.6 958.8,314.6 962.5,312.7 964.0,306.1 963.5,298.5 961.6,291.0 957.8,284.4 953.1,276.8 949.3,268.3 947.4,261.7 952.1,260.8 956.9,266.4 960.6,274.0 966.3,279.7 972.0,283.4 976.7,289.1 980.5,294.8 982.4,298.5 985.0,300.4 985.0,376.0 713.0,376.0" fill="#fff"/>
<polygon points="713.0,202.0 716.5,206.0 718.0,211.0 716.5,215.0 713.0,218.0" fill="#fff"/>
<polygon points="736.0,376.0 739.8,370.8 747.5,366.3 757.8,365.0 765.5,364.4 771.9,360.5 777.0,355.4 782.2,352.2 788.6,351.3 798.9,350.9 811.7,350.9 819.5,352.2 827.2,355.4 834.9,359.3 841.3,364.4 845.1,370.8 846.4,376.0" fill="#ffd700"/>
<path d="M707.80,64.2L366.60,405.4M735.99,64.2L394.79,405.4M764.19,64.2L422.99,405.4M792.38,64.2L451.18,405.4M820.57,64.2L479.37,405.4M848.77,64.2L507.57,405.4M876.96,64.2L535.76,405.4M905.15,64.2L563.95,405.4M933.34,64.2L592.14,405.4M961.54,64.2L620.34,405.4M989.73,64.2L648.53,405.4M1017.92,64.2L676.72,405.4M1046.12,64.2L704.92,405.4M1074.31,64.2L733.11,405.4M1102.50,64.2L761.30,405.4M1130.70,64.2L789.50,405.4M1158.89,64.2L817.69,405.4M1187.08,64.2L845.88,405.4M1215.27,64.2L874.07,405.4M1243.47,64.2L902.27,405.4M1271.66,64.2L930.46,405.4M1299.85,64.2L958.65,405.4M1328.05,64.2L986.85,405.4" stroke="#000" stroke-width="1.35" fill="none"/>
<polygon points="791.6,93.0 785.4,102.6 783.7,114.7 785.4,131.9 787.1,149.2 785.4,163.0 780.2,171.6 769.9,178.5 759.6,190.6 752.7,204.3 749.2,218.1 747.5,230.2 742.6,237.1 726.7,239.8 716.1,242.4 713.0,243.3 713.0,259.0 717.0,267.2 723.2,275.2 732.0,279.6 739.1,278.7 746.2,273.4 750.6,266.3 756.8,252.2 763.9,239.8 772.7,229.2 783.3,223.0 792.2,224.7 798.4,230.9 802.8,238.9 808.3,242.9 816.5,244.9 824.8,242.9 833.0,237.1 841.3,230.5 849.5,226.4 857.8,224.8 864.4,226.4 869.3,231.4 874.3,237.1 880.9,241.3 884.2,239.6 885.8,233.0 887.5,223.1 892.4,214.9 902.4,209.7 911.9,206.7 918.5,209.2 926.0,218.6 933.6,228.0 942.1,239.3 949.6,249.7 958.1,258.2 968.5,262.0 977.9,266.7 983.6,270.5 985.5,271.5 985.0,93.0" fill="#999166"/>
<polygon points="933.8,196.4 942.9,196.4 949.5,203.0 954.5,211.3 961.1,219.5 967.7,227.8 972.6,236.0 975.0,245.0 970.0,252.0 962.0,252.0 955.0,244.0 947.9,231.0 941.3,222.8 936.3,212.9 933.8,203.0" fill="#a08366" filter="url(#bl)"/>
<ellipse cx="818.5" cy="220.5" rx="6" ry="7.5" fill="#a08366" filter="url(#bl)"/>
<ellipse cx="878" cy="170" rx="9.5" ry="5.5" transform="rotate(-35 878 170)" fill="#9a9a9c"/>
<path d="M727.60,93.70V377.4M761.46,93.70V377.4M795.32,93.70V377.4M829.17,93.70V377.4M863.03,93.70V377.4M896.89,93.70V377.4M930.75,93.70V377.4M964.60,93.70V377.4M714.30,341.29H986.8M714.30,306.58H986.8M714.30,270.83H986.8M714.30,233.94H986.8M714.30,195.79H986.8M714.30,156.23H986.8M714.30,115.10H986.8" stroke="#808080" stroke-opacity="0.6" stroke-width="2" stroke-dasharray="2 4.214" fill="none"/>
<polygon points="791.6,93.0 785.4,102.6 783.7,114.7 785.4,131.9 787.1,149.2 785.4,163.0 780.2,171.6 769.9,178.5 759.6,190.6 752.7,204.3 749.2,218.1 747.5,230.2 742.6,237.1 726.7,239.8 716.1,242.4 713.0,243.3 713.0,259.0 717.0,267.2 723.2,275.2 732.0,279.6 739.1,278.7 746.2,273.4 750.6,266.3 756.8,252.2 763.9,239.8 772.7,229.2 783.3,223.0 792.2,224.7 798.4,230.9 802.8,238.9 808.3,242.9 816.5,244.9 824.8,242.9 833.0,237.1 841.3,230.5 849.5,226.4 857.8,224.8 864.4,226.4 869.3,231.4 874.3,237.1 880.9,241.3 884.2,239.6 885.8,233.0 887.5,223.1 892.4,214.9 902.4,209.7 911.9,206.7 918.5,209.2 926.0,218.6 933.6,228.0 942.1,239.3 949.6,249.7 958.1,258.2 968.5,262.0 977.9,266.7 983.6,270.5 985.5,271.5 985.0,93.0" fill="none" stroke="#ff0000" stroke-width="1.7" stroke-linejoin="round"/>
<path d="M711.3,97.5 L714.1,98.2 L717.0,98.6 L720.2,98.2 L723.5,97.7 L727.6,98.4 L731.0,99.5 L733.0,97.7 L735.7,96.9 L738.4,95.4 L740.9,95.8 L741.5,94.8 L743.9,92.2 L745.9,90.7 L746.6,87.4M711.3,128.4 L715.4,128.0 L720.8,128.9 L724.9,129.7 L727.6,128.0 L729.6,127.0 L731.7,126.6 L729.0,126.0 L728.5,125.1 L730.0,121.8 L732.6,119.9 L737.1,117.8 L742.2,116.6 L746.3,113.6 L748.6,110.9 L749.3,107.3 L749.0,103.5 L749.3,99.7 L752.7,95.0 L757.4,93.3 L762.1,92.0M711.3,202.4 L714.1,203.1 L715.4,204.9 L716.8,206.0 L717.8,209.3 L718.7,212.5 L720.0,214.5M713.0,203.9 L715.7,207.4 L717.4,211.2 L719.5,214.1M710.0,349.0 L714.3,348.1 L717.8,347.6 L717.0,345.6 L718.4,341.6 L718.8,339.6 L720.0,338.0 L721.1,335.5 L722.5,333.6 L725.8,332.2 L728.3,330.5 L730.7,328.7 L729.1,326.8 L725.4,324.6 L724.3,321.3 L723.3,316.2 L724.3,312.2 L727.9,307.1 L731.4,303.1 L733.0,300.2 L735.0,296.9 L739.7,295.4 L739.4,293.8 L737.5,292.4 L738.7,291.0 L741.8,287.9 L744.5,287.1 L749.5,285.3 L752.7,284.5 L756.0,282.9 L757.4,281.7 L760.6,279.2 L765.4,276.8 L770.0,273.6 L771.2,271.7 L770.0,268.7 L769.9,267.2 L770.7,266.1 L772.6,265.0 L770.4,263.0 L769.3,261.2 L768.6,258.1 L768.8,254.4 L769.6,250.7 L774.6,247.4 L777.7,245.1 L780.8,242.7 L783.5,242.7 L787.6,244.2 L793.0,246.1 L794.6,244.8 L796.0,246.1 L800.1,246.4 L802.6,248.7 L803.4,249.4 L807.9,250.7 L810.9,252.0 L813.7,250.7 L816.3,248.8 L817.5,247.5 L819.3,244.8 L821.7,242.7 L822.7,242.3 L824.2,242.2 L826.1,239.7 L828.1,239.0 L829.2,238.1 L833.0,237.3 L836.4,236.2 L838.2,233.9 L840.0,231.1 L842.4,228.3 L846.1,226.4 L848.5,226.2 L851.5,227.2 L852.3,228.3 L854.9,228.9 L859.0,231.5 L861.0,232.6 L864.4,234.9 L866.4,236.4 L867.1,242.3 L868.9,245.1 L870.2,248.8 L869.8,253.8 L873.3,254.0 L875.2,257.1 L876.6,259.0 L879.3,263.0 L880.0,264.5 L884.7,267.2 L887.4,269.2 L892.1,272.6 L894.2,275.7 L898.5,280.8 L901.6,283.5 L904.3,284.9 L907.7,284.2 L911.4,285.1 L915.2,287.1 L917.2,289.7 L918.6,292.1 L920.6,291.7 L923.3,293.3 L922.2,295.6 L924.7,296.0 L927.6,294.5 L930.1,296.9 L930.6,300.4 L933.5,304.8 L934.4,306.1 L939.3,305.3 L940.9,308.3 L941.4,309.9 L942.9,314.5 L944.7,317.8 L945.2,321.8 L947.0,324.9 L945.6,326.7 L944.3,329.3 L942.0,330.6 L943.6,332.7 L942.9,333.9 L940.5,337.0 L939.5,339.6 L941.3,342.7 L945.1,342.7 L946.6,340.4 L947.8,337.2 L951.1,333.6 L951.7,329.4 L953.8,327.2 L959.0,326.0 L959.6,322.7 L958.6,317.4 L957.8,315.4 L951.7,311.5 L952.4,308.3 L953.8,304.8 L955.8,301.3 L960.5,298.3 L963.2,299.5 L967.3,301.6 L971.1,305.7 L974.1,308.3 L976.2,310.1 L977.9,306.6 L978.0,303.9 L976.8,301.3 L972.7,297.7 L970.6,295.3 L966.0,292.4 L960.5,288.8 L956.1,286.7 L951.1,284.4 L948.1,283.1 L945.0,280.8 L943.2,277.7 L944.3,275.9 L946.7,273.0 L942.7,272.1 L938.2,272.3 L934.1,271.7 L930.7,270.8 L926.8,268.7 L923.3,265.4 L920.0,262.5 L916.8,257.1 L915.6,253.5 L913.5,247.0 L910.7,241.0 L906.6,239.2 L902.4,235.6 L897.8,232.8 L895.3,229.2 L893.9,226.0 L893.5,220.7 L896.9,216.0 L894.9,214.1 L893.9,210.8 L894.7,206.8 L898.9,205.5 L902.0,203.5 L905.0,202.8 L908.8,202.0 L910.8,199.7 L912.1,200.6 L914.1,202.6 L913.5,204.5 L911.4,204.9 L910.7,206.8 L911.8,210.6 L912.3,213.5 L915.2,217.5 L916.0,219.6 L917.9,216.9 L919.2,213.5 L920.6,210.3 L921.4,208.5 L923.2,208.7 L925.3,210.3 L926.5,211.8 L929.4,215.2 L930.1,219.8 L931.7,224.0 L936.7,228.5 L935.5,230.2 L933.9,231.7 L936.8,235.1 L939.5,237.7 L942.9,239.0 L944.3,242.3 L947.7,242.9 L950.2,243.1 L953.6,244.4 L958.1,247.0 L961.2,249.8 L963.7,251.6 L966.1,254.0 L967.3,255.3 L970.0,257.1 L972.6,259.0 L974.4,260.3 L978.6,262.6 L980.9,263.2 L982.8,265.6 L986.3,269.0 L987.6,272.1 L990.3,273.6M855.2,252.4 L856.0,255.7 L855.6,258.1 L856.7,261.7 L856.9,267.2 L855.2,270.8 L854.9,274.5 L853.5,278.1 L852.5,280.8 L851.7,282.0 L849.5,279.9 L848.1,278.1 L846.4,276.3 L844.3,272.6 L846.1,272.3 L843.8,269.9 L843.7,267.2 L845.2,265.9 L844.1,263.5 L846.2,260.4 L848.7,259.3 L851.1,257.7 L853.5,258.4 L854.0,255.3 L854.4,252.9 L855.2,252.4M852.1,284.5 L854.6,285.6 L856.9,287.1 L858.3,290.3 L859.6,293.3 L860.7,297.2 L859.2,299.9 L858.3,303.1 L859.1,307.8 L858.3,313.6 L858.0,319.0 L856.5,322.0 L853.5,320.6 L851.1,320.6 L849.5,323.2 L844.6,326.3 L842.0,324.9 L841.1,323.2 L841.1,320.6 L842.0,316.2 L842.7,312.7 L843.4,309.2 L841.4,308.3 L841.1,306.1 L842.3,301.3 L840.1,296.7 L838.1,296.0 L838.7,292.4 L838.9,287.9 L840.0,290.6 L841.4,291.7 L845.6,290.4 L847.7,288.8 L850.2,286.2 L852.1,284.5M939.5,336.7 L938.2,338.0 L934.0,337.5 L928.0,339.6 L917.5,340.6 L913.1,341.6 L911.1,339.6 L908.5,339.2 L907.7,337.9 L905.0,340.4 L902.0,340.8 L900.0,338.2 L896.9,341.0 L895.9,344.7 L898.1,347.3 L901.0,349.0 L904.7,349.8 L908.4,352.4 L911.5,353.7 L916.4,356.6 L920.6,357.3 L924.0,360.0 L928.7,363.0 L932.6,363.5 L932.8,360.8 L934.7,357.1 L933.7,354.4 L932.0,349.8 L933.5,346.4 L934.7,343.9 L936.4,341.3 L939.5,336.7M770.9,307.5 L769.3,308.7 L770.3,309.2 L771.6,311.0 L774.5,311.7 L772.8,314.7 L770.3,318.0 L768.9,319.4 L766.2,317.1 L764.8,315.4 L763.5,314.1 L761.5,315.4 L759.8,314.5 L760.8,312.7 L764.2,310.1 L767.6,308.3 L770.9,307.5M779.5,305.7 L782.9,305.2 L785.8,307.5 L785.4,308.9 L782.4,308.3 L779.5,307.5 L779.5,305.7M748.2,322.3 L749.3,324.6 L747.0,325.8 L745.2,326.7 L744.1,324.6 L745.2,323.2 L748.2,322.3M746.3,328.9 L748.6,329.6 L747.2,330.1 L746.3,328.9M864.4,255.9 L868.4,255.3 L868.9,257.1 L864.4,257.5 L864.4,255.9M924.0,210.8 L927.4,213.1 L926.7,215.4 L924.7,214.1 L924.0,210.8M921.3,212.2 L923.3,216.9 L923.3,222.6 L921.9,223.6 L921.9,217.9 L921.3,212.2M928.0,220.7 L932.8,226.4 L931.4,228.3 L928.7,222.6 L928.0,220.7M949.7,245.1 L956.5,246.1 L955.1,247.9 L950.4,247.0 L949.7,245.1M949.7,248.8 L960.5,249.8 L959.2,250.7 L951.1,249.8 L949.7,248.8M953.8,252.9 L960.5,253.5 L959.9,254.4 L954.4,253.8 L953.8,252.9M929.4,232.1 L933.5,234.9 L932.8,235.8 L929.4,233.0 L929.4,232.1M715.4,380.1 L723.5,377.6 L728.8,376.2 L730.6,373.1 L738.4,370.1 L745.2,366.5 L750.6,365.9 L757.4,365.0 L760.8,365.2 L765.5,364.2 L769.0,362.2 L771.3,361.3 L775.0,361.7 L780.6,359.8 L783.4,360.0 L787.5,360.2 L792.6,361.7 L796.4,362.5 L799.4,362.0 L805.7,361.3 L810.2,360.0 L815.2,356.8 L816.6,358.3 L821.0,360.3 L823.1,359.1 L824.7,356.9 L829.2,359.1 L832.7,360.0 L839.2,359.1 L841.9,360.0 L846.2,359.1 L849.5,357.5 L852.5,354.4 L857.6,354.1 L861.3,353.7 L861.0,352.5 L864.7,354.6 L865.7,355.4 L866.4,359.1 L867.1,360.8 L865.5,361.7 L867.5,360.3 L869.8,359.1 L875.2,358.0 L877.3,356.9 L877.9,360.8 L874.5,365.0 L872.9,367.6 L871.2,368.4 L869.1,373.4 L871.7,377.9M810.9,188.0 L815.6,186.0 L820.4,187.0 L819.7,188.4 L815.6,188.0 L811.6,189.9 L810.9,188.0M850.8,163.3 L858.3,165.3 L857.6,166.3 L852.2,164.3 L850.8,163.3" stroke="#000" stroke-width="1.35" fill="none" stroke-linejoin="round"/>
<path d="M762.1,92.0 L762.8,95.0 L766.9,98.2 L770.9,100.3 L772.3,103.9 L777.0,105.6 L781.8,107.7 L783.8,109.8 L784.5,114.1 L787.9,116.1 L793.3,112.4 L793.3,116.1 L796.7,119.3 L800.7,121.4 L806.1,124.5M806.1,124.5 L805.5,120.3 L806.1,117.2 L808.9,112.4M808.9,112.4 L812.9,108.8 L811.6,104.6 L809.1,99.2 L808.2,97.1 L808.9,92.8M804.8,99.2 L804.1,97.1 L806.1,92.8M810.6,112.4 L812.2,116.1 L815.6,119.3 L814.3,123.5 L813.9,126.2M806.1,124.5 L810.2,126.2 L813.9,126.2 L817.0,128.6 L819.0,131.7 L823.1,132.8 L827.1,134.8 L830.5,133.8 L834.6,134.8 L838.7,136.5 L836.6,141.0 L833.2,144.1 L831.9,150.2 L830.1,154.2 L829.6,160.2 L830.4,164.3M830.4,164.7 L834.6,165.3 L838.7,164.3 L841.4,162.3 L844.1,160.2 L846.1,162.3 L849.5,163.3 L853.5,164.3 L857.6,166.3M830.4,164.7 L825.1,167.3 L822.4,166.3 L821.7,170.2 L818.3,174.2 L815.0,178.2 L811.6,182.1 L810.2,185.1 L810.2,188.0 L808.5,190.9 L810.9,192.9 L812.2,189.0 L816.3,188.0 L819.7,188.0 L820.4,191.9 L821.7,195.8 L823.1,197.3M823.1,197.3 L820.4,199.7 L822.4,203.5 L823.8,206.4 L817.7,211.2 L819.0,213.1 L819.0,216.0 L822.4,217.9 L821.7,221.7 L821.0,226.4 L826.5,230.2 L831.9,231.1 L829.8,235.8 L829.4,238.1M823.1,197.3 L829.2,196.8 L834.3,196.8 L837.3,193.8 L842.0,190.9 L842.0,187.0 L844.7,194.8 L847.5,195.8 L849.9,199.1 L849.5,195.8 L852.2,191.9 L854.9,186.0 L857.6,189.0 L865.1,189.9 L869.1,186.0 L869.1,183.7M869.1,183.7 L869.1,179.2 L868.4,177.2 L865.1,176.2 L861.7,178.2 L857.6,175.2 L856.3,171.2 L857.6,166.3M869.1,183.7 L873.9,179.2 L876.6,180.7 L879.3,177.2 L884.7,176.2 L891.5,174.2 L895.5,181.1 L901.0,184.1 L907.7,185.1 L913.4,185.6M857.6,166.3 L862.4,165.3 L865.7,167.3 L869.1,165.3 L876.3,168.3 L882.0,166.3 L887.4,164.3 L892.8,164.3 L896.9,162.3 L901.0,163.3 L904.3,164.3 L903.0,160.2 L901.6,156.2 L901.0,152.2 L909.1,150.2 L909.8,144.7 L914.9,140.6M914.9,140.6 L911.1,136.9 L906.4,132.8 L903.0,129.7 L898.2,125.5 L896.2,121.4 L896.2,115.1 L892.8,110.9 L894.2,108.4 L902.3,106.7 L907.7,102.4 L914.5,99.9 L921.3,98.2 L922.6,95.0 L925.3,92.8M928.3,96.5 L930.7,92.8 L934.8,98.2 L941.6,99.2 L948.4,102.4 L947.7,106.7 L952.4,110.9 L955.8,113.0 L957.8,108.8 L964.6,110.9 L968.0,113.0 L972.1,116.1 L978.8,117.2 L982.9,125.5M928.3,96.5 L930.1,92.8M914.9,140.6 L917.9,144.1 L926.7,144.1 L930.7,136.9 L938.9,138.9 L945.6,141.0 L951.1,141.0 L957.2,143.7M957.2,143.7 L959.2,140.0 L964.6,138.9 L971.4,133.8 L976.8,127.6 L982.9,125.5M957.2,143.7 L957.2,150.2 L958.5,153.2 L960.0,156.2M960.0,156.2 L958.5,160.2 L958.5,162.3 L953.1,164.3 L950.4,166.3 L950.4,170.2 L951.1,176.2 L945.6,178.8M945.6,178.8 L944.3,182.1 L938.9,183.1 L930.7,182.1 L925.3,186.0 L919.9,187.0 L913.4,185.6M913.4,185.6 L911.8,189.0 L909.8,191.9 L911.1,195.8 L911.8,198.7 L912.5,200.6 L914.5,203.5M911.8,205.8 L915.8,205.8 L918.6,204.5 L922.6,205.8 L926.7,203.5 L932.8,205.8 L934.8,201.6 L938.9,198.7 L939.5,195.8 L939.5,191.9 L944.3,189.9 L948.4,188.0 L949.7,185.1M949.7,185.1 L945.6,178.8M949.7,185.1 L955.8,189.0 L960.5,192.9 L966.0,196.8 L971.4,199.7 L978.1,200.6 L983.6,197.7 L991.7,192.9M940.9,210.3 L941.6,215.0 L945.6,220.7 L947.0,225.5 L949.7,230.2 L956.5,234.9 L960.5,241.4 L962.6,246.1 L966.0,251.6 L967.3,253.5 L969.3,255.3 L974.8,259.0 L977.5,260.8M940.9,210.3 L944.3,211.2 L948.4,214.1 L952.4,211.2 L957.8,212.2 L964.6,212.2 L971.4,213.1 L978.1,214.1 L984.9,216.9 L990.3,217.9M983.6,197.7 L984.9,205.5 L990.3,211.2M977.5,260.8 L978.8,256.2 L980.9,252.5 L984.9,247.0 L989.0,243.3M960.0,156.2 L967.3,161.3 L976.8,161.3 L982.2,160.2 L984.9,156.2 L991.7,154.2M982.9,125.5 L989.0,127.6M708.6,248.8 L714.1,251.6 L718.1,253.5 L723.5,256.2 L727.6,258.1 L736.4,258.1 L737.8,255.3 L741.1,258.1 L746.6,259.9 L747.2,261.7 L751.0,262.6 L754.7,261.7 L758.7,263.5 L762.8,264.5 L770.5,262.6M747.2,259.0 L747.2,261.7M751.0,262.6 L751.7,260.8 L747.2,259.0M844.3,359.1 L842.0,363.4 L840.7,366.7 L840.0,371.7 L840.0,378.4" stroke="#000" stroke-width="1.35" fill="none" stroke-linejoin="round"/>
<g fill="#000"><circle cx="906.0" cy="329.3" r="0.9"/><circle cx="889.4" cy="361.7" r="0.9"/><circle cx="930.1" cy="333.1" r="0.9"/><circle cx="928.7" cy="331.7" r="0.9"/><circle cx="933.6" cy="327.7" r="0.9"/><circle cx="930.3" cy="334.4" r="0.9"/><circle cx="921.9" cy="332.0" r="0.9"/><circle cx="924.9" cy="331.5" r="0.9"/><circle cx="890.9" cy="341.8" r="0.9"/><circle cx="894.6" cy="342.5" r="0.9"/><circle cx="894.6" cy="341.3" r="0.9"/><circle cx="903.1" cy="290.6" r="0.9"/><circle cx="909.5" cy="292.4" r="0.9"/><circle cx="915.8" cy="293.7" r="0.9"/><circle cx="920.3" cy="296.9" r="0.9"/><circle cx="875.2" cy="264.3" r="0.9"/><circle cx="860.7" cy="251.6" r="0.9"/><circle cx="867.2" cy="264.8" r="0.9"/><circle cx="864.1" cy="260.3" r="0.9"/><circle cx="861.7" cy="244.6" r="0.9"/><circle cx="937.5" cy="268.7" r="0.9"/><circle cx="956.1" cy="257.1" r="0.9"/><circle cx="964.6" cy="257.1" r="0.9"/><circle cx="946.3" cy="251.8" r="0.9"/><circle cx="923.3" cy="223.6" r="0.9"/><circle cx="927.5" cy="219.4" r="0.9"/><circle cx="932.8" cy="233.0" r="0.9"/><circle cx="814.3" cy="252.5" r="0.9"/><circle cx="811.6" cy="252.5" r="0.9"/><circle cx="767.3" cy="321.5" r="0.9"/><circle cx="841.4" cy="323.2" r="0.9"/><circle cx="839.7" cy="321.6" r="0.9"/><circle cx="839.6" cy="287.6" r="0.9"/><circle cx="854.9" cy="284.7" r="0.9"/><circle cx="859.2" cy="290.6" r="0.9"/><circle cx="848.5" cy="349.3" r="0.9"/><circle cx="873.9" cy="356.3" r="0.9"/><circle cx="948.4" cy="243.3" r="0.9"/><circle cx="953.8" cy="249.8" r="0.9"/></g>
<ellipse cx="812.8" cy="260" rx="6.5" ry="2.5" fill="none" stroke="#008000" stroke-width="1.6"/>
<ellipse cx="940.8" cy="257" rx="1.8" ry="2.3" fill="none" stroke="#008000" stroke-width="1.6"/>
</g>
<rect x="714.3" y="94.2" width="270.5" height="281.2" fill="none" stroke="#000" stroke-width="1"/>
<text x="706.3" y="344.2" font-size="11" text-anchor="end" fill="#262626" textLength="28" lengthAdjust="spacingAndGlyphs">38°N</text>
<text x="706.3" y="309.5" font-size="11" text-anchor="end" fill="#262626" textLength="28" lengthAdjust="spacingAndGlyphs">40°N</text>
<text x="706.3" y="273.7" font-size="11" text-anchor="end" fill="#262626" textLength="28" lengthAdjust="spacingAndGlyphs">42°N</text>
<text x="706.3" y="236.8" font-size="11" text-anchor="end" fill="#262626" textLength="28" lengthAdjust="spacingAndGlyphs">44°N</text>
<text x="706.3" y="198.7" font-size="11" text-anchor="end" fill="#262626" textLength="28" lengthAdjust="spacingAndGlyphs">46°N</text>
<text x="706.3" y="159.1" font-size="11" text-anchor="end" fill="#262626" textLength="28" lengthAdjust="spacingAndGlyphs">48°N</text>
<text x="706.3" y="118.0" font-size="11" text-anchor="end" fill="#262626" textLength="28" lengthAdjust="spacingAndGlyphs">50°N</text>
<text x="722.1" y="390" font-size="11" fill="#262626" textLength="11" lengthAdjust="spacingAndGlyphs">0°</text>
<text x="746.1" y="390" font-size="11" fill="#262626" textLength="30.8" lengthAdjust="spacingAndGlyphs">2.5°E</text>
<text x="785.6" y="390" font-size="11" fill="#262626" textLength="19.4" lengthAdjust="spacingAndGlyphs">5°E</text>
<text x="814.3" y="390" font-size="11" fill="#262626" textLength="29.8" lengthAdjust="spacingAndGlyphs">7.5°E</text>
<text x="849.8" y="390" font-size="11" fill="#262626" textLength="26.4" lengthAdjust="spacingAndGlyphs">10°E</text>
<text x="917.5" y="390" font-size="11" fill="#262626" textLength="26.4" lengthAdjust="spacingAndGlyphs">15°E</text>
<text x="818.0" y="87" font-size="13.9" fill="#262626" textLength="62.5" lengthAdjust="spacingAndGlyphs">February</text>
<text x="245" y="42" font-size="16" font-weight="bold" fill="#000" textLength="588" lengthAdjust="spacingAndGlyphs">ARPAP snowfall median anomaly with reliability RUN: 20251101</text>
<rect x="1010.1" y="84.70" width="12.6" height="29.87" fill="#1e90ff"/>
<rect x="1010.1" y="114.27" width="12.6" height="29.87" fill="#40e0d0"/>
<rect x="1010.1" y="143.84" width="12.6" height="29.87" fill="#228b22"/>
<rect x="1010.1" y="173.41" width="12.6" height="29.87" fill="#9acd32"/>
<rect x="1010.1" y="202.98" width="12.6" height="29.87" fill="#ffffff"/>
<rect x="1010.1" y="232.55" width="12.6" height="29.87" fill="#ffffff"/>
<rect x="1010.1" y="262.12" width="12.6" height="29.87" fill="#ffd700"/>
<rect x="1010.1" y="291.69" width="12.6" height="29.87" fill="#ff8c00"/>
<rect x="1010.1" y="321.26" width="12.6" height="29.87" fill="#ff4500"/>
<rect x="1010.1" y="350.83" width="12.6" height="29.87" fill="#ff0000"/>
<rect x="1010.1" y="84.7" width="12.6" height="295.7" fill="none" stroke="#000" stroke-width="0.9"/>
<path d="M1022.7,84.7h4.2" stroke="#000" stroke-width="1"/>
<text x="1031" y="88.7" font-size="11" fill="#262626" textLength="21.0" lengthAdjust="spacingAndGlyphs">100</text>
<path d="M1022.7,114.3h4.2" stroke="#000" stroke-width="1"/>
<text x="1031" y="118.3" font-size="11" fill="#262626" textLength="14.0" lengthAdjust="spacingAndGlyphs">50</text>
<path d="M1022.7,143.8h4.2" stroke="#000" stroke-width="1"/>
<text x="1031" y="147.8" font-size="11" fill="#262626" textLength="14.0" lengthAdjust="spacingAndGlyphs">20</text>
<path d="M1022.7,173.4h4.2" stroke="#000" stroke-width="1"/>
<text x="1031" y="177.4" font-size="11" fill="#262626" textLength="14.0" lengthAdjust="spacingAndGlyphs">10</text>
<path d="M1022.7,203.0h4.2" stroke="#000" stroke-width="1"/>
<text x="1031" y="207.0" font-size="11" fill="#262626" textLength="7.0" lengthAdjust="spacingAndGlyphs">1</text>
<path d="M1022.7,232.6h4.2" stroke="#000" stroke-width="1"/>
<text x="1031" y="236.6" font-size="11" fill="#262626" textLength="7.0" lengthAdjust="spacingAndGlyphs">0</text>
<path d="M1022.7,262.1h4.2" stroke="#000" stroke-width="1"/>
<text x="1031" y="266.1" font-size="11" fill="#262626" textLength="16.2" lengthAdjust="spacingAndGlyphs">&#8722;1</text>
<path d="M1022.7,291.7h4.2" stroke="#000" stroke-width="1"/>
<text x="1031" y="295.7" font-size="11" fill="#262626" textLength="23.2" lengthAdjust="spacingAndGlyphs">&#8722;10</text>
<path d="M1022.7,321.3h4.2" stroke="#000" stroke-width="1"/>
<text x="1031" y="325.3" font-size="11" fill="#262626" textLength="23.2" lengthAdjust="spacingAndGlyphs">&#8722;20</text>
<path d="M1022.7,350.8h4.2" stroke="#000" stroke-width="1"/>
<text x="1031" y="354.8" font-size="11" fill="#262626" textLength="23.2" lengthAdjust="spacingAndGlyphs">&#8722;50</text>
<path d="M1022.7,380.4h4.2" stroke="#000" stroke-width="1"/>
<text x="1031" y="384.4" font-size="11" fill="#262626" textLength="30.2" lengthAdjust="spacingAndGlyphs">&#8722;100</text>
<text transform="translate(1071,413.40) rotate(-90)" x="0" y="0" font-size="11.2" fill="#262626" textLength="29.07" lengthAdjust="spacingAndGlyphs">Total</text>
<text transform="translate(1071,380.64) rotate(-90)" x="0" y="0" font-size="11.2" fill="#262626" textLength="47.63" lengthAdjust="spacingAndGlyphs">snowfall</text>
<text transform="translate(1071,329.32) rotate(-90)" x="0" y="0" font-size="11.2" fill="#262626" textLength="47.75" lengthAdjust="spacingAndGlyphs">monthly</text>
<text transform="translate(1071,277.89) rotate(-90)" x="0" y="0" font-size="11.2" fill="#262626" textLength="43.49" lengthAdjust="spacingAndGlyphs">median</text>
<text transform="translate(1071,230.71) rotate(-90)" x="0" y="0" font-size="11.2" fill="#262626" textLength="50.07" lengthAdjust="spacingAndGlyphs">anomaly</text>
<text transform="translate(1071,176.96) rotate(-90)" x="0" y="0" font-size="11.2" fill="#262626" textLength="24.62" lengthAdjust="spacingAndGlyphs">with</text>
<text transform="translate(1071,148.65) rotate(-90)" x="0" y="0" font-size="11.2" fill="#262626" textLength="63.75" lengthAdjust="spacingAndGlyphs">robustness</text>
<text transform="translate(1071,81.21) rotate(-90)" x="0" y="0" font-size="11.2" fill="#262626" textLength="26.73" lengthAdjust="spacingAndGlyphs">[cm]</text>
<defs><clipPath id="icl"><rect x="100" y="45.3" width="32" height="20"/></clipPath><filter id="sh" x="-20%" y="-20%" width="140%" height="140%"><feGaussianBlur stdDeviation="0.8"/></filter></defs>
<g transform="translate(0.8,1.6)" filter="url(#sh)"><path d="M96,45.2 A10.2,10.2 0 1 1 100.45,25.83 A15.3,15.3 0 0 1 131.05,25.83 A10.2,10.2 0 1 1 135.5,45.2 Z" fill="#cfcfcf" stroke="#cfcfcf" stroke-width="13" stroke-linejoin="round"/><path d="M94.90,53.30L94.90,67.70M88.66,56.90L101.14,64.10M101.14,56.90L88.66,64.10M136.90,53.30L136.90,67.70M130.66,56.90L143.14,64.10M143.14,56.90L130.66,64.10M115.70,39.60L115.70,51.60M110.50,42.60L120.90,48.60M120.90,42.60L110.50,48.60" stroke="#cfcfcf" stroke-width="18" stroke-linecap="round"/></g>
<path d="M96,45.2 A10.2,10.2 0 1 1 100.45,25.83 A15.3,15.3 0 0 1 131.05,25.83 A10.2,10.2 0 1 1 135.5,45.2 Z" fill="#e2e2e2" stroke="#e2e2e2" stroke-width="13" stroke-linejoin="round"/>
<path d="M94.90,53.30L94.90,67.70M88.66,56.90L101.14,64.10M101.14,56.90L88.66,64.10M136.90,53.30L136.90,67.70M130.66,56.90L143.14,64.10M143.14,56.90L130.66,64.10M115.70,39.60L115.70,51.60M110.50,42.60L120.90,48.60M120.90,42.60L110.50,48.60" stroke="#e2e2e2" stroke-width="18" stroke-linecap="round"/>
<path d="M96,45.2 A10.2,10.2 0 1 1 100.45,25.83 A15.3,15.3 0 0 1 131.05,25.83 A10.2,10.2 0 1 1 135.5,45.2 Z" fill="#fff" stroke="#fff" stroke-width="11.5" stroke-linejoin="round"/>
<path d="M94.90,53.30L94.90,67.70M88.66,56.90L101.14,64.10M101.14,56.90L88.66,64.10M136.90,53.30L136.90,67.70M130.66,56.90L143.14,64.10M143.14,56.90L130.66,64.10M115.70,39.60L115.70,51.60M110.50,42.60L120.90,48.60M120.90,42.60L110.50,48.60" stroke="#fff" stroke-width="16.5" stroke-linecap="round"/>
<path d="M96,45.2 A10.2,10.2 0 1 1 100.45,25.83 A15.3,15.3 0 0 1 131.05,25.83 A10.2,10.2 0 1 1 135.5,45.2 Z" fill="#c7d3de" stroke="#2e2a6b" stroke-width="2.3"/>
<g clip-path="url(#icl)"><path d="M115.70,39.60L115.70,51.60M110.50,42.60L120.90,48.60M120.90,42.60L110.50,48.60" stroke="#2e2a6b" stroke-width="6.6" stroke-linecap="round"/></g>
<path d="M115.70,39.60L115.70,51.60M110.50,42.60L120.90,48.60M120.90,42.60L110.50,48.60" stroke="#fff" stroke-width="2.2" stroke-linecap="round" clip-path="url(#icl)"/>
<path d="M111.5,44.2 L119.9,44.2 L118,47 L113.5,47 Z" fill="#fff"/>
<path d="M94.90,53.30L94.90,67.70M88.66,56.90L101.14,64.10M101.14,56.90L88.66,64.10M136.90,53.30L136.90,67.70M130.66,56.90L143.14,64.10M143.14,56.90L130.66,64.10" stroke="#2e2a6b" stroke-width="6.8" stroke-linecap="round"/>
<path d="M94.90,53.30L94.90,67.70M88.66,56.90L101.14,64.10M101.14,56.90L88.66,64.10M136.90,53.30L136.90,67.70M130.66,56.90L143.14,64.10M143.14,56.90L130.66,64.10" stroke="#fff" stroke-width="2.1" stroke-linecap="round"/>
<polygon points="970.4,25.9 1009,25.9 989,57" fill="#a9d7ef"/>
<text x="903" y="54.9" font-size="40" font-weight="bold" fill="#3a5aa6" stroke="#3a5aa6" stroke-width="3.3" stroke-linejoin="round" lengthAdjust="spacingAndGlyphs" textLength="28.5">A</text>
<text x="932.3" y="54.9" font-size="40" font-weight="bold" fill="#3a5aa6" stroke="#3a5aa6" stroke-width="3.3" stroke-linejoin="round" lengthAdjust="spacingAndGlyphs" textLength="18.3">r</text>
<text x="953.1" y="54.9" font-size="40" font-weight="bold" fill="#3a5aa6" stroke="#3a5aa6" stroke-width="3.3" stroke-linejoin="round" lengthAdjust="spacingAndGlyphs" textLength="23">p</text>
<ellipse cx="1004" cy="43.2" rx="6.5" ry="7.8" fill="none" stroke="#3a5aa6" stroke-width="7.4"/>
<rect x="1011" y="31.2" width="7.4" height="23.8" fill="#3a5aa6"/>
<path d="M976.5,35 Q983,41 989,43.5 Q994,41 999,36 L997,41 Q992,47 988.5,49 Q981,43 976.5,35 Z" fill="#2f7fc1"/>
<path d="M981.5,39.5 Q987,38.5 993,39.5 L991.5,43.8 Q987,45 983,43.8 Z" fill="#c9dc3c"/>
<path d="M981,38 L983,29 L986,29 L986,33 L988,28 L992,28 L992,33 L995,31 L997,36 L990,39 Z" fill="#1f2630"/>
<circle cx="996.3" cy="34.4" r="2.8" fill="#3aa14a"/>
<circle cx="981.5" cy="30" r="1" fill="#1f2630"/>
<rect x="970" y="18.9" width="39.2" height="6.7" fill="#1f9a4c"/>
<rect x="971" y="19.8" width="37.2" height="4.9" fill="none" stroke="#fff" stroke-width="0.5"/>
<text x="973" y="24.3" font-size="5.4" font-weight="bold" fill="#fff" textLength="33" lengthAdjust="spacingAndGlyphs">PIEMONTE</text>
<text x="965.7" y="64.4" font-size="6.6" font-weight="bold" fill="#17994a" stroke="#17994a" stroke-width="0.2" textLength="51.5" lengthAdjust="spacingAndGlyphs">Agenzia Regionale</text>
<text x="929.5" y="72.4" font-size="6.6" font-weight="bold" fill="#17994a" stroke="#17994a" stroke-width="0.2" textLength="87.4" lengthAdjust="spacingAndGlyphs">per la Protezione Ambientale</text>
</svg></body></html>
